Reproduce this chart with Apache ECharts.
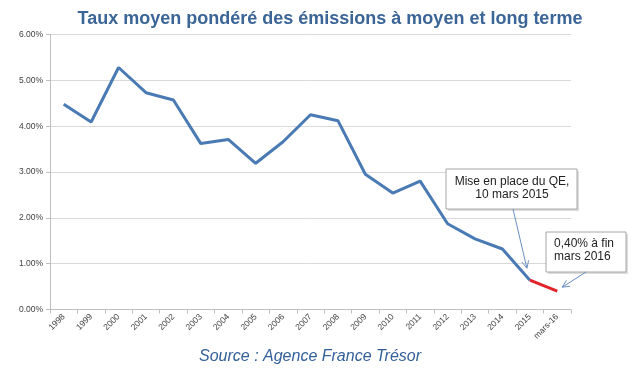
<!DOCTYPE html>
<html><head><meta charset="utf-8">
<script src="https://cdn.jsdelivr.net/npm/echarts@6/dist/echarts.min.js"></script>
<style>html,body{margin:0;padding:0;background:#fff}#c{width:634px;height:368px}</style>
</head><body><div id="c"></div>
<script>
var categories = ['1998','1999','2000','2001','2002','2003','2004','2005','2006','2007','2008','2009','2010','2011','2012','2013','2014','2015','mars-16'];
var rates = [4.48,4.09,5.28,4.73,4.57,3.62,3.71,3.19,3.66,4.25,4.12,2.95,2.54,2.80,1.87,1.54,1.32,0.64,0.40];
var qeStartIndex = 17;
var yTicks = [0,1,2,3,4,5,6];

var blueData = rates.map(function(v,i){return i<=qeStartIndex? v : null;});
var redData = rates.map(function(v,i){return i>=qeStartIndex? v : null;});

var chart = echarts.init(document.getElementById('c'), null, {renderer:'canvas'});
var option = {
  animation:false,
  backgroundColor:'#fff',
  title:[{
    text:'Taux moyen pondéré des émissions à moyen et long terme',
    left:325, top:5, textAlign:'center',
    textStyle:{fontFamily:'Liberation Sans, Arial', fontWeight:'bold', fontSize:18, color:'#3b6596'}
  },{
    text:'Source : Agence France Trésor',
    left:305, top:344, textAlign:'center',
    textStyle:{fontFamily:'Liberation Sans, Arial', fontStyle:'italic', fontWeight:'normal', fontSize:16, color:'#34609a'}
  }],
  grid:{left:50, right:63, top:34.5, bottom:58.5, containLabel:false},
  xAxis:{
    type:'category', data:categories, boundaryGap:true,
    axisLine:{lineStyle:{color:'#bfbfbf'}},
    axisTick:{show:true, length:4, lineStyle:{color:'#bfbfbf'}},
    axisLabel:{interval:0, rotate:45, fontSize:8.5, color:'#404040', fontFamily:'Liberation Sans, Arial', margin:6}
  },
  yAxis:{
    type:'value', min:yTicks[0], max:yTicks[yTicks.length-1], interval:1,
    axisLine:{show:true, lineStyle:{color:'#bfbfbf'}},
    axisTick:{show:true, length:4, lineStyle:{color:'#bfbfbf'}},
    splitLine:{lineStyle:{color:'#d9d9d9'}},
    axisLabel:{fontSize:8.5, color:'#404040', fontFamily:'Liberation Sans, Arial', margin:7,
      formatter:function(v){return v.toFixed(2)+'%';}}
  },
  series:[{
    type:'line', data:blueData, symbol:'none', connectNulls:false,
    lineStyle:{color:'#4a7ab3', width:3}, z:2
  },{
    type:'line', data:redData, symbol:'none',
    lineStyle:{color:'#e0242a', width:3}, z:3
  }]
};
chart.setOption(option);

var pQE = chart.convertToPixel({gridIndex:0}, [qeStartIndex, rates[qeStartIndex]]);
var pEnd = chart.convertToPixel({gridIndex:0}, [categories.length-1, rates[categories.length-1]]);

function arrow(x1,y1,x2,y2){
  var a = Math.atan2(y2-y1, x2-x1), L=8, w=0.45;
  return [{
    type:'line', shape:{x1:x1,y1:y1,x2:x2,y2:y2}, style:{stroke:'#6a8fc0', lineWidth:1}, z:20
  },{
    type:'polyline', shape:{points:[[x2-L*Math.cos(a-w), y2-L*Math.sin(a-w)],[x2,y2],[x2-L*Math.cos(a+w), y2-L*Math.sin(a+w)]]},
    style:{stroke:'#6a8fc0', lineWidth:1, fill:null}, z:20
  }];
}

var g = [];
g.push({type:'rect', shape:{x:448,y:171,width:131,height:40}, style:{fill:'#dcdcdc'}, z:18});
g.push({type:'rect', shape:{x:446,y:169,width:131,height:40}, style:{fill:'#fff', stroke:'#a6a6a6', lineWidth:1}, z:19});
g.push({type:'text', x:512, y:188, style:{text:'Mise en place du QE,\n10 mars 2015', fill:'#222', font:'12px Liberation Sans, Arial', textAlign:'center', textVerticalAlign:'middle', lineHeight:13}, z:21});
g = g.concat(arrow(513, 209, pQE[0]-3, pQE[1]-12));
g.push({type:'rect', shape:{x:548,y:234,width:80,height:40}, style:{fill:'#dcdcdc'}, z:18});
g.push({type:'rect', shape:{x:546,y:232,width:80,height:40}, style:{fill:'#fff', stroke:'#a6a6a6', lineWidth:1}, z:19});
g.push({type:'text', x:554, y:250.5, style:{text:'0,40% à fin\nmars 2016', fill:'#222', font:'12px Liberation Sans, Arial', textAlign:'left', textVerticalAlign:'middle', lineHeight:13}, z:21});
g = g.concat(arrow(586, 272, pEnd[0]+5, pEnd[1]-4));
chart.setOption({graphic:g});
</script>
</body></html>
